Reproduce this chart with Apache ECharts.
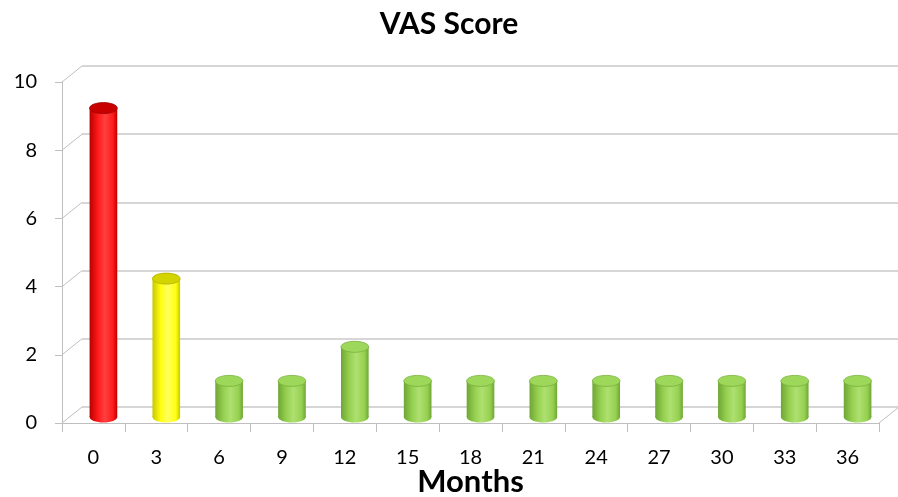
<!DOCTYPE html>
<html><head><meta charset="utf-8">
<script src="https://cdn.jsdelivr.net/npm/echarts@6/dist/echarts.min.js"></script>
<style>html,body{margin:0;padding:0;background:#fff}#c{width:898px;height:497px}</style>
</head><body><div id="c"></div>
<script>
var categories = ['0','3','6','9','12','15','18','21','24','27','30','33','36'];
var vasValues = [9,4,1,1,2,1,1,1,1,1,1,1,1];
var barColors = ['red','yellow','green','green','green','green','green','green','green','green','green','green','green'];
var yTicks = [0,2,4,6,8,10];

var palette = {
  red:    {edge:'#b80000', mid:'#ff1a1a', light:'#ff4040', top:'#c80000', topEdge:'#a00000'},
  yellow: {edge:'#c8c800', mid:'#ffff10', light:'#ffff60', top:'#d4d400', topEdge:'#b0b000'},
  green:  {edge:'#6ea634', mid:'#96d050', light:'#aee070', top:'#9ed85a', topEdge:'#78b03c'}
};
var DX = 20, DY = 16;
var FONT = 'Lato, "Open Sans", sans-serif';

var chart = echarts.init(document.getElementById('c'));
chart.setOption({
  animation:false,
  title:{text:'VAS Score', left:'center', top:4, textStyle:{fontFamily:FONT, fontWeight:'bold', fontSize:30, color:'#000'}},
  grid:[
    {left:62, right:19, top:82, bottom:74, containLabel:false, outerBoundsMode:'none'},
    {left:82, right:0, top:66, bottom:90, containLabel:false, outerBoundsMode:'none'}
  ],
  xAxis:[
    {type:'category', gridIndex:0, data:categories, boundaryGap:true,
     axisLine:{lineStyle:{color:'#bfbfbf', width:1}},
     axisTick:{show:true, length:9, lineStyle:{color:'#bfbfbf'}},
     axisLabel:{fontFamily:FONT, fontSize:20, color:'#000', margin:25},
     name:'Months', nameLocation:'middle', nameGap:43, nameMoveOverlap:false,
     nameTextStyle:{fontFamily:FONT, fontWeight:'bold', fontSize:31, color:'#000'}},
    {type:'category', gridIndex:1, data:categories, show:false}
  ],
  yAxis:[
    {type:'value', gridIndex:0, min:0, max:10, interval:2,
     axisLine:{show:true, lineStyle:{color:'#bfbfbf'}},
     axisTick:{show:true, length:7, lineStyle:{color:'#bfbfbf'}},
     splitLine:{show:false},
     axisLabel:{fontFamily:FONT, fontSize:20, color:'#000', margin:25}},
    {type:'value', gridIndex:1, min:0, max:10, interval:2,
     axisLine:{show:false}, axisTick:{show:false}, axisLabel:{show:false},
     splitLine:{show:true, lineStyle:{color:'#c8c8c8', width:1.5}}}
  ],
  series:[
    {
      type:'custom', xAxisIndex:0, yAxisIndex:0,
      data: yTicks.map(function(v){return [0, v];}),
      renderItem:function(params, api){
        var cs = params.coordSys;
        var y = api.coord([0, api.value(1)])[1];
        var x = cs.x;
        var children = [{type:'line', shape:{x1:x, y1:y, x2:x+DX, y2:y-DY}, style:{stroke:'#bfbfbf', lineWidth:1}}];
        if (api.value(1) === 0) {
          var xr = cs.x + cs.width;
          children.push({type:'line', shape:{x1:xr, y1:y, x2:xr+DX, y2:y-DY}, style:{stroke:'#bfbfbf', lineWidth:1}});
        }
        return {type:'group', children:children};
      },
      silent:true, z:1
    },
    {
      type:'custom', xAxisIndex:0, yAxisIndex:0,
      data: vasValues.map(function(v,i){return [i, v];}),
      renderItem:function(params, api){
        var i = api.value(0), v = api.value(1);
        var top = api.coord([i, v]);
        var base = api.coord([i, 0]);
        var bw = api.size([1,0])[0] * 0.44;
        var cx = top[0] + DX/2, ty = top[1] - DY/2, by = base[1] - DY/2 + 2;
        var rx = bw/2, ry = 5.5;
        var c = palette[barColors[i]];
        var grad = new echarts.graphic.LinearGradient(0,0,1,0,[
          {offset:0, color:c.edge},{offset:0.3, color:c.mid},{offset:0.55, color:c.light},{offset:0.85, color:c.mid},{offset:1, color:c.edge}]);
        return {type:'group', children:[
          {type:'ellipse', shape:{cx:cx, cy:by, rx:rx, ry:ry}, style:{fill:grad}},
          {type:'rect', shape:{x:cx-rx, y:ty, width:bw, height:by-ty}, style:{fill:grad}},
          {type:'ellipse', shape:{cx:cx, cy:ty, rx:rx, ry:ry}, style:{fill:c.top, stroke:c.topEdge, lineWidth:0.8}}
        ]};
      },
      z:3
    }
  ]
});
</script></body></html>
